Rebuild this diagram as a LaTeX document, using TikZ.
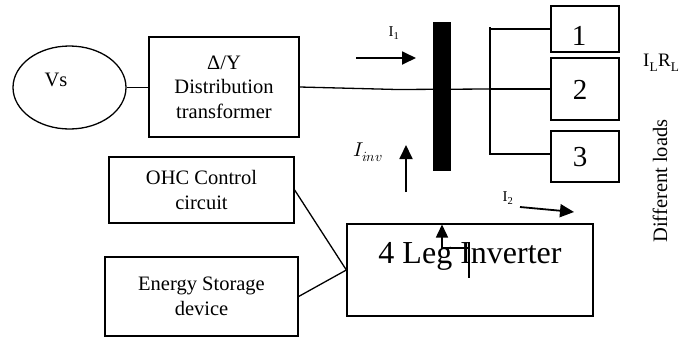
\documentclass[tikz,border=0pt]{standalone}
\usepackage{fontspec}
\usepackage{unicode-math}
\setmainfont{Liberation Serif}
\setmathfont{Latin Modern Math}
\usetikzlibrary{shapes.geometric,arrows.meta}
\tikzset{
  box/.style={draw,line width=1.3pt,inner sep=0pt,rectangle},
  txt/.style={font=\fontsize{20.5}{24.5}\selectfont,align=center,inner sep=0pt},
  big/.style={font=\fontsize{29}{32}\selectfont,inner sep=0pt},
  small/.style={font=\fontsize{15}{17}\selectfont,inner sep=0pt},
  wire/.style={line width=1.3pt},
  flow/.style={line width=1.8pt,-{Triangle[length=14pt,width=13pt]}}
}
\begin{document}
\begin{tikzpicture}[x=1pt,y=-1pt]
\useasboundingbox (0,0) rectangle (681,338);
% source
\node[draw,ellipse,line width=1.3pt,minimum width=113pt,minimum height=83pt,inner sep=0pt] (vs) at (69.5,87.5) {};
\node[txt] (vst) at (56,80) {Vs};
% transformer
\node[box,txt,minimum width=150pt,minimum height=100pt] (tr) at (224,87) {Δ/Υ\\Distribution\\transformer};
% control + storage
\node[box,txt,minimum width=185pt,minimum height=66pt] (ohc) at (201.5,190) {OHC Control\\circuit};
\node[box,txt,minimum width=193pt,minimum height=79pt] (es) at (201.5,296.5) {Energy Storage\\device};
% inverter
\node[box,minimum width=246pt,minimum height=92pt] (inv) at (470,270) {};
\node[font=\fontsize{32}{36}\selectfont,inner sep=0pt] (invt) at (470,256) {4 Leg Inverter};
% bus bar
\node[fill=black,draw=none,minimum width=18pt,minimum height=149pt,inner sep=0pt] (bus) at (442,96.5) {};
% loads
\node[box,minimum width=68pt,minimum height=46pt] (l1) at (585,29) {};
\node[box,minimum width=68pt,minimum height=62pt] (l2) at (585,89) {};
\node[box,minimum width=68pt,minimum height=51pt] (l3) at (585,156.5) {};
\node[big] (n1) at (579,36) {1};
\node[big] (n2) at (580,90) {2};
\node[big] (n3) at (580,157) {3};
% load bus
\coordinate (lbt) at (490,27);
\coordinate (lbb) at (490,155);
\coordinate (b1) at (490,29);
\coordinate (b2) at (490,89);
\coordinate (b3) at (490,154);
\draw[wire] (lbt) -- (lbb);
\draw[wire] (b1) -- (b1 -| l1.west);
\draw[wire] (b2) -- (b2 -| l2.west);
\draw[wire] (b3) -- (b3 -| l3.west);
% feeder
\draw[wire] (vs.east) -- (tr.west |- vs.east);
\coordinate (k) at (397,89.5);
\draw[wire] (tr.east) -- (k) -- (b2);
% control connections
\draw[wire] (ohc.east) -- (inv.west);
\draw[wire] (es.east) -- (inv.west);
% currents
\coordinate (i1s) at (356,58);
\coordinate (i1e) at (416,58);
\draw[flow] (i1s) -- (i1e);
\node[small] (i1l) at (394,33) {I\textsubscript{1}};
\coordinate (iis) at (406,192);
\coordinate (iie) at (406,145);
\draw[flow] (iis) -- (iie);
\node[font=\fontsize{20}{22}\selectfont,inner sep=0pt] (iil) at (368,152) {$I_{inv}$};
\coordinate (i2s) at (520,207);
\coordinate (i2e) at (574,212);
\draw[flow] (i2s) -- (i2e);
\node[small] (i2l) at (508,198) {I\textsubscript{2}};
% symbol inside inverter
\coordinate (sa) at (442,249);
\coordinate (sb) at (442,224.5);
\coordinate (sc) at (469,248);
\coordinate (sd) at (469,242);
\coordinate (se) at (469,278);
\draw[line width=1.5pt,-{Triangle[length=13pt,width=12pt]}] (sa) -- (sb);
\draw[line width=1.5pt] (sa |- sc) -- (sc);
\draw[line width=1.5pt] (sd) -- (se);
% right-hand labels
\node[font=\fontsize{19}{21}\selectfont,inner sep=0pt,anchor=west] (ilrl) at (643,63) {I\textsubscript{L}R\textsubscript{L}};
\node[txt,rotate=90] (dl) at (660,181) {Different loads};
\end{tikzpicture}
\end{document}
